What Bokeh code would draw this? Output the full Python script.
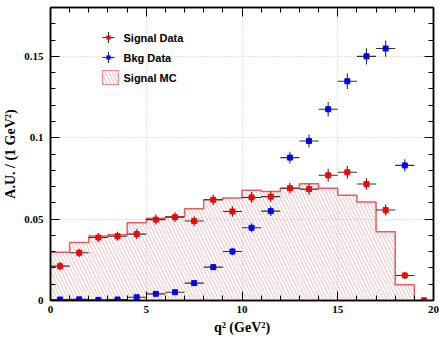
from bokeh.plotting import figure
from bokeh.models import (Range1d, LinearAxis, SingleIntervalTicker, CustomJSTickFormatter,
                          ColumnDataSource, Label, Arrow, BoxAnnotation)
from bokeh.embed import file_html
from bokeh.resources import INLINE

# ---------------- data ----------------
bin_edges = [float(i) for i in range(21)]
bin_centers = [i + 0.5 for i in range(20)]

signal_data = [0.0211, 0.0293, 0.0387, 0.0395, 0.0408, 0.0497, 0.0512, 0.0488, 0.0619, 0.0547,
               0.0633, 0.0638, 0.0690, 0.0684, 0.0769, 0.0788, 0.0716, 0.0556, 0.0154, 0.0]
signal_err = [0.0025, 0.0025, 0.0027, 0.0028, 0.0030, 0.0030, 0.0030, 0.0030, 0.0032, 0.0032,
              0.0033, 0.0033, 0.0033, 0.0035, 0.0040, 0.0038, 0.0035, 0.0034, 0.0022, 0.0]

bkg_data = [0.0006, 0.0007, 0.0004, 0.0006, 0.0020, 0.0041, 0.0051, 0.0107, 0.0205, 0.0301,
            0.0447, 0.0549, 0.0878, 0.0980, 0.1175, 0.1347, 0.1500, 0.1548, 0.0830, 0.0]
bkg_err = [0.0004, 0.0004, 0.0004, 0.0004, 0.0006, 0.0008, 0.0009, 0.0013, 0.0018, 0.0023,
           0.0027, 0.0030, 0.0036, 0.0040, 0.0044, 0.0047, 0.0050, 0.0050, 0.0037, 0.0]

signal_mc = [0.0297, 0.0357, 0.0396, 0.0404, 0.0478, 0.0506, 0.0514, 0.0564, 0.0619, 0.0629,
             0.0677, 0.0670, 0.0690, 0.0718, 0.0690, 0.0646, 0.0605, 0.0422, 0.0096, 0.0]

x_major = 5
x_minor_count = 5
y_major = 0.05
y_minor_count = 5

legend_labels = ["Signal Data", "Bkg Data", "Signal MC"]

# ---------------- style ----------------
SERIF = "Liberation Serif"
SANS = "Liberation Sans"
MC_LINE = "#e06060"
MC_HATCH = "#e07070"
ERR_COLOR = "#303030"

p = figure(width=439, height=339, x_range=Range1d(0, 20), y_range=Range1d(0, 0.18),
           output_backend="svg", toolbar_location=None,
           min_border_left=50, min_border_right=6, min_border_top=7, min_border_bottom=39,
           x_axis_label="q² (GeV²)", y_axis_label="A.U. / (1 GeV²)")
p.background_fill_color = "white"
p.border_fill_color = "white"
p.outline_line_color = "black"
p.outline_line_width = 1.5

xt = SingleIntervalTicker(interval=x_major, num_minor_ticks=x_minor_count)
yt = SingleIntervalTicker(interval=y_major, num_minor_ticks=y_minor_count)
fmt = CustomJSTickFormatter(code="""
    let s = tick.toFixed(2);
    s = s.replace(/0+$/, '').replace(/\\.$/, '');
    return s;
""")

def style_axis(ax, ticker, labels=True):
    ax.ticker = ticker
    ax.axis_line_color = "black"
    ax.axis_line_width = 1.5
    ax.major_tick_in = 9
    ax.major_tick_out = 0
    ax.minor_tick_in = 5
    ax.minor_tick_out = 0
    ax.major_tick_line_color = "black"
    ax.minor_tick_line_color = "black"
    ax.major_tick_line_width = 1
    ax.minor_tick_line_width = 1
    if labels:
        ax.major_label_text_font = SERIF
        ax.major_label_text_font_style = "bold"
        ax.major_label_text_font_size = "11px"
        ax.major_label_text_color = "black"
        ax.axis_label_text_font = SERIF
        ax.axis_label_text_font_style = "bold"
        ax.axis_label_text_font_size = "14px"
        ax.axis_label_text_color = "black"
    else:
        ax.major_label_text_font_size = "1px"
        ax.major_label_text_color = None
        ax.major_label_text_alpha = 0
        ax.major_label_standoff = 0
        ax.axis_label = None

style_axis(p.xaxis[0], xt)
style_axis(p.yaxis[0], yt)
p.xaxis[0].formatter = fmt
p.yaxis[0].formatter = fmt
p.xaxis[0].major_label_standoff = 5
p.xaxis[0].axis_label_standoff = 4
p.yaxis[0].major_label_standoff = 7
p.yaxis[0].axis_label_standoff = 3

top_ax = LinearAxis()
right_ax = LinearAxis()
style_axis(top_ax, xt, labels=False)
style_axis(right_ax, yt, labels=False)
p.add_layout(top_ax, "above")
p.add_layout(right_ax, "right")

p.xgrid.ticker = xt
p.ygrid.ticker = yt
for g in (p.xgrid[0], p.ygrid[0]):
    g.grid_line_color = "#c8c8c8"
    g.grid_line_dash = "1 2"
    g.grid_line_width = 1

# ---------------- Signal MC histogram ----------------
mc_src = ColumnDataSource(dict(left=bin_edges[:-1], right=bin_edges[1:], top=signal_mc,
                               bottom=[0.0] * len(signal_mc)))
p.quad(left="left", right="right", top="top", bottom="bottom", source=mc_src,
       fill_color=None, line_color=None, hatch_pattern="\\", hatch_color=MC_HATCH,
       hatch_alpha=0.6, hatch_scale=7, hatch_weight=0.8)
p.step(x=bin_edges, y=signal_mc + [signal_mc[-1]], mode="after", line_color=MC_LINE,
       line_width=1.5)

# ---------------- data points with error bars ----------------
def draw_points(vals, errs, color):
    src = ColumnDataSource(dict(
        x=bin_centers, y=vals,
        x0=[c - 0.5 for c in bin_centers], x1=[c + 0.5 for c in bin_centers],
        y0=[v - e for v, e in zip(vals, errs)], y1=[v + e for v, e in zip(vals, errs)]))
    p.segment(x0="x0", x1="x1", y0="y", y1="y", source=src, line_color=ERR_COLOR, line_width=1.1)
    p.segment(x0="x", x1="x", y0="y0", y1="y1", source=src, line_color=ERR_COLOR, line_width=1.1)
    p.scatter(x="x", y="y", source=src, marker="square", size=5, fill_color=color,
              line_color=color)

draw_points(bkg_data, bkg_err, "#0000ff")
draw_points(signal_data, signal_err, "#ff0000")

# ---------------- legend (screen units, relative to the frame) ----------------
leg_x = 58          # marker centre, px from frame left
leg_rows = [263, 243, 223]   # px from frame bottom
text_x = 73
marker_colors = ["#ff0000", "#0000ff"]
for i, row in enumerate(leg_rows[:2]):
    p.add_layout(Arrow(end=None, x_start=leg_x - 6, x_end=leg_x + 6, y_start=row, y_end=row,
                       start_units="screen", end_units="screen",
                       line_color=ERR_COLOR, line_width=1.1))
    p.add_layout(Arrow(end=None, x_start=leg_x, x_end=leg_x, y_start=row - 5.5, y_end=row + 5.5,
                       start_units="screen", end_units="screen",
                       line_color=ERR_COLOR, line_width=1.1))
    p.add_layout(BoxAnnotation(left=leg_x - 2, right=leg_x + 2, bottom=row - 2, top=row + 2,
                               left_units="screen", right_units="screen",
                               bottom_units="screen", top_units="screen",
                               fill_color=marker_colors[i], fill_alpha=1.0,
                               line_color=marker_colors[i], line_width=0.5))
row = leg_rows[2]
p.add_layout(BoxAnnotation(left=leg_x - 6, right=leg_x + 10, bottom=row - 7, top=row + 7,
                           left_units="screen", right_units="screen",
                           bottom_units="screen", top_units="screen",
                           fill_color=None, fill_alpha=0.0, line_color=MC_LINE, line_alpha=0.7,
                           line_width=1.2, hatch_pattern="\\", hatch_color=MC_HATCH,
                           hatch_alpha=0.6, hatch_scale=7, hatch_weight=0.8))
for lab, row in zip(legend_labels, leg_rows):
    p.add_layout(Label(x=text_x, y=row, x_units="screen", y_units="screen", text=lab,
                       text_font=SANS, text_font_style="bold", text_font_size="11px",
                       text_baseline="middle", text_align="left", text_color="black"))

open("out.html", "w").write(file_html(p, INLINE))
